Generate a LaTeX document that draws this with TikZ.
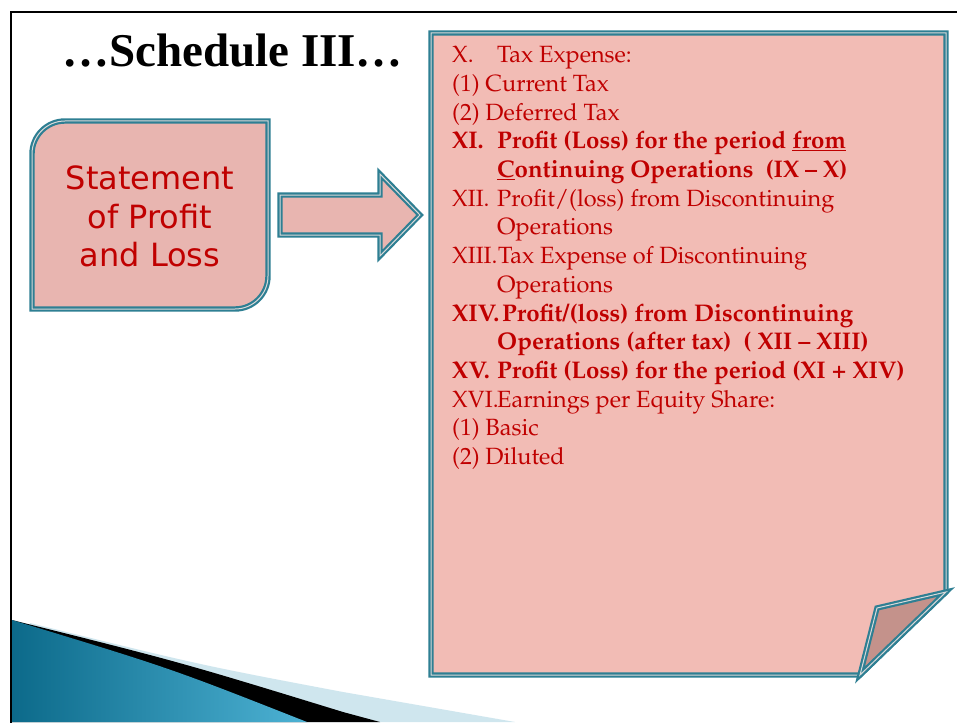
\documentclass[tikz,border=0pt]{standalone}
\usepackage[T1]{fontenc}
\usepackage{fontspec}
\newfontfamily\titlefont{Liberation Serif}
\newfontfamily\boxfont{DejaVu Sans}
\newcommand\palfont{\fontencoding{T1}\fontfamily{ppl}\selectfont}
\definecolor{tealb}{HTML}{2E7F93}
\definecolor{notefill}{HTML}{F2BCB5}
\definecolor{boxfill}{HTML}{E8B5B0}
\definecolor{foldfill}{HTML}{C4928B}
\definecolor{txtred}{HTML}{C00000}
\definecolor{swdark}{HTML}{0C6A8A}
\definecolor{swlight}{HTML}{4DB2D4}
\definecolor{swpale}{HTML}{CFE6EE}
\tikzset{
  dbl/.style={draw=tealb, line width=2.2pt, double=white!70!gray, double distance=1pt, line join=miter},
  lbl/.style={anchor=base west, inner sep=0pt, text=txtred, font=\palfont\fontsize{23.5}{28.7}\selectfont},
  lblb/.style={lbl, font=\palfont\bfseries\fontsize{24.1}{28.7}\selectfont},
  boxtxt/.style={anchor=base, inner sep=0pt, text=txtred, font=\boxfont\fontsize{32}{38.5}\selectfont}
}
\begin{document}
\begin{tikzpicture}[x=1pt,y=-1pt]
\useasboundingbox (0,0) rectangle (957,722);
\clip (0,0) rectangle (957,722);
\fill[white] (0,0) rectangle (957,722);
% slide frame
\draw[line width=2pt] (975,12) -- (11,12) -- (11,740);
% swoosh
\fill[swpale] (30,623) .. controls (200,665) .. (343,692) -- (515,722) -- (12,722) -- cycle;
\fill[black] (12,620) .. controls (180,662) .. (343,712) -- (380,722) -- (12,722) -- cycle;
\shade[left color=swdark, right color=swlight] (12,620) .. controls (170,668) .. (307,722) -- (12,722) -- cycle;
% title
\node[anchor=base west, inner sep=0pt, font=\titlefont\bfseries\fontsize{47}{50}\selectfont] (title) at (62,67) {…Schedule III…};
% left box
\path[dbl, fill=boxfill] (32,215) [rounded corners=33pt] -- (32,121) -- (150,121) [sharp corners] -- (268,121) -- (268,215) [rounded corners=33pt] -- (268,309) -- (150,309) [sharp corners] -- (32,309) -- cycle;
\node[boxtxt] (b1) at (150,189) {Statement};
\node[boxtxt] (b2) at (150,228) {of Profit};
\node[boxtxt] (b3) at (150,266) {and Loss};
% arrow
\path[dbl, fill=boxfill] (280,195) -- (380,195) -- (380,174) -- (420,215) -- (380,256) -- (380,235) -- (280,235) -- cycle;
% note
\path[dbl, fill=notefill] (431,33) -- (946,33) -- (946,592) -- (860,675) -- (431,675) -- cycle;
\path[dbl, fill=foldfill] (946,592) -- (877,608) -- (860,675) -- cycle;
% note text
\node[lbl] (l0) at (452,62.7) {X.};
\node[lbl] (t0) at (497,62.7) {Tax Expense:};
\node[lbl] (t1) at (452,91.4) {(1) Current Tax};
\node[lbl] (t2) at (452,120.1) {(2) Deferred Tax};
\node[lblb] (l3) at (452,148.8) {XI.};
\node[lblb] (t3) at (497,148.8) {Profit (Loss) for the period \underline{from}};
\node[lblb] (t4) at (497,177.5) {\underline{C}ontinuing Operations\ \ (IX -- X)};
\node[lbl] (l5) at (452,206.2) {XII.};
\node[lbl] (t5) at (497,206.2) {Profit/(loss) from Discontinuing};
\node[lbl] (t6) at (497,234.9) {Operations};
\node[lbl] (l7) at (452,263.6) {XIII.};
\node[lbl] (t7) at (498,263.6) {Tax Expense of Discontinuing};
\node[lbl] (t8) at (497,292.3) {Operations};
\node[lblb] (l9) at (452,321) {XIV.};
\node[lblb] (t9) at (502,321) {Profit/(loss) from Discontinuing};
\node[lblb] (t10) at (497,349.7) {Operations (after tax)\ \ ( XII -- XIII)};
\node[lblb] (l11) at (452,378.4) {XV.};
\node[lblb] (t11) at (497,378.4) {Profit (Loss) for the period (XI + XIV)};
\node[lbl] (l12) at (452,407.1) {XVI.};
\node[lbl] (t12) at (497,407.1) {Earnings per Equity Share:};
\node[lbl] (t13) at (452,435.8) {(1) Basic};
\node[lbl] (t14) at (452,464.5) {(2) Diluted};
\end{tikzpicture}
\end{document}
